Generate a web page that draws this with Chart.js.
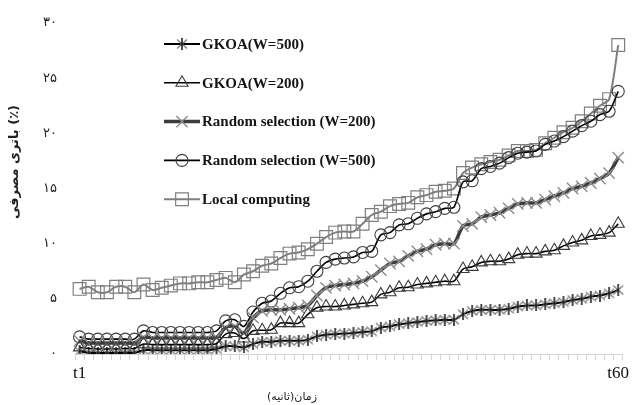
<!DOCTYPE html>
<html><head><meta charset="utf-8">
<script src="https://cdn.jsdelivr.net/npm/chart.js@4.4.1/dist/chart.umd.min.js"></script>
<style>html,body{margin:0;padding:0;background:#fff}#wrap{width:633px;height:405px;position:relative}</style>
</head><body><div id="wrap"><canvas id="c" width="633" height="405"></canvas></div>
<script>
const categories = Array.from({length: 60}, (_, i) => 't' + (i + 1));
const seriesNames = ['GKOA(W=500)', 'GKOA(W=200)', 'Random selection (W=200)', 'Random selection (W=500)', 'Local computing'];
const gkoa500 = [0.25,0.1,0.1,0.1,0.1,0.1,0.1,0.35,0.35,0.35, 0.35,0.35,0.35,0.35,0.35,0.45,0.7,0.7,0.6,0.9, 1.1,1.1,1.2,1.2,1.2,1.3,1.6,1.75,1.8,1.85, 1.9,2.0,2.05,2.4,2.5,2.7,2.8,2.9,3.0,3.05, 3.1,3.1,3.6,3.9,4.0,4.0,4.0,4.1,4.3,4.4, 4.4,4.5,4.6,4.7,4.9,5.0,5.2,5.3,5.5,5.8];
const gkoa200 = [0.6,0.5,0.45,0.45,0.45,0.5,0.5,0.9,0.85,0.85, 0.85,0.85,0.85,0.85,0.85,0.95,1.8,1.9,1.4,2.1, 2.15,2.2,2.8,2.8,2.8,3.6,4.2,4.3,4.3,4.4, 4.5,4.6,4.7,5.4,5.6,6.0,6.05,6.3,6.4,6.5, 6.6,6.6,7.7,7.9,8.3,8.4,8.4,8.6,9.0,9.1, 9.1,9.3,9.4,9.8,10.1,10.3,10.7,10.8,11.0,11.8];
const random200 = [1.2,1.0,1.0,1.0,1.0,1.0,1.0,1.5,1.45,1.45, 1.45,1.45,1.45,1.45,1.45,1.5,2.4,2.5,1.9,3.3, 3.9,4.0,4.0,4.1,4.2,4.4,5.3,6.0,6.2,6.3, 6.4,6.6,7.0,7.6,8.2,8.4,8.9,9.3,9.5,9.9, 10.0,10.0,11.6,11.8,12.4,12.6,12.8,13.2,13.6,13.7, 13.7,14.0,14.3,14.6,15.0,15.2,15.5,15.9,16.4,17.8];
const random500 = [1.55,1.35,1.35,1.35,1.35,1.35,1.35,2.1,1.95,1.95, 1.95,1.95,1.95,1.95,1.95,2.1,3.0,3.1,2.5,3.8, 4.6,4.8,5.5,6.0,6.1,6.6,7.5,8.3,8.6,8.7, 8.8,9.2,9.3,10.8,11.0,11.7,11.8,12.3,12.7,12.9, 13.2,13.3,15.6,15.7,16.8,17.0,17.3,17.8,18.2,18.3, 18.4,19.0,19.3,19.7,20.2,20.7,21.1,21.7,22.0,23.8];
const localComputing = [5.9,6.1,5.6,5.6,6.1,6.1,5.6,6.3,5.8,6.0, 6.2,6.4,6.4,6.5,6.5,6.7,6.9,6.5,7.2,7.5, 8.0,8.2,8.7,9.1,9.2,9.5,10.0,10.6,11.0,11.1, 11.1,11.8,12.6,12.9,13.4,13.6,13.7,14.2,14.4,14.7, 14.8,15.0,16.4,16.9,17.2,17.4,17.6,18.0,18.4,18.4, 18.5,19.1,19.6,20.1,20.5,21.1,21.8,22.5,23.1,28.0];
const yTickLabels = ['۰', '۵', '۱۰', '۱۵', '۲۰', '۲۵', '۳۰'];
const xTitle = 'زمان(ثانیه)';
const yTitle = 'باتری مصرفی (٪)';

function makeStar() {
  const s = 12, c = document.createElement('canvas');
  c.width = s; c.height = s;
  const g = c.getContext('2d');
  g.strokeStyle = '#7a7a7a'; g.lineWidth = 1.2;
  g.beginPath(); g.moveTo(1, 1.5); g.lineTo(s - 1, s - 1.5); g.moveTo(s - 1, 1.5); g.lineTo(1, s - 1.5); g.stroke();
  g.strokeStyle = '#000'; g.lineWidth = 1.4;
  g.beginPath(); g.moveTo(s / 2, 0); g.lineTo(s / 2, s); g.stroke();
  return c;
}
const starImg = makeStar();

const datasets = [
  {label: seriesNames[0], data: gkoa500, borderColor: '#000', borderWidth: 2, pointStyle: starImg, pointRadius: 6, pointBorderColor: '#000', pointBackgroundColor: 'transparent'},
  {label: seriesNames[1], data: gkoa200, borderColor: '#000', borderWidth: 1.6, pointStyle: 'triangle', pointRadius: 7, pointBorderWidth: 1.1, pointBorderColor: '#3a3a3a', pointBackgroundColor: 'transparent'},
  {label: seriesNames[2], data: random200, borderColor: '#3c3c3c', borderWidth: 3.5, pointStyle: 'crossRot', pointRadius: 8, pointBorderWidth: 1.4, pointBorderColor: '#8c8c8c', pointBackgroundColor: 'transparent'},
  {label: seriesNames[3], data: random500, borderColor: '#000', borderWidth: 1.6, pointStyle: 'circle', pointRadius: 6, pointBorderWidth: 1.1, pointBorderColor: '#404040', pointBackgroundColor: 'transparent'},
  {label: seriesNames[4], data: localComputing, borderColor: '#7f7f7f', borderWidth: 2, pointStyle: 'rect', pointRadius: 9, pointBorderWidth: 1.2, pointBorderColor: '#7f7f7f', pointBackgroundColor: 'transparent'}
];
datasets.forEach(d => { d.tension = 0.3; d.fill = false; d.pointHoverRadius = d.pointRadius; });

function drawMarker(ctx, ds, x, y) {
  const st = ds.pointStyle;
  ctx.save();
  ctx.strokeStyle = ds.pointBorderColor; ctx.lineWidth = ds.pointBorderWidth || 1;
  const r = ds.pointRadius;
  if (st instanceof HTMLCanvasElement) {
    ctx.drawImage(st, x - st.width / 2, y - st.height / 2);
  } else if (Chart.helpers && Chart.helpers.drawPoint) {
    ctx.fillStyle = 'rgba(0,0,0,0)';
    Chart.helpers.drawPoint(ctx, {pointStyle: st, radius: r, borderWidth: ds.pointBorderWidth, rotation: 0}, x, y);
  } else {
    ctx.beginPath();
    if (st === 'circle') ctx.arc(x, y, r, 0, Math.PI * 2);
    else if (st === 'rect') { const s = r * Math.SQRT1_2; ctx.rect(x - s, y - s, 2 * s, 2 * s); }
    else if (st === 'triangle') { ctx.moveTo(x, y - r); ctx.lineTo(x + r * 0.866, y + r * 0.5); ctx.lineTo(x - r * 0.866, y + r * 0.5); ctx.closePath(); }
    else if (st === 'crossRot') { const s = r * Math.SQRT1_2; ctx.moveTo(x - s, y - s); ctx.lineTo(x + s, y + s); ctx.moveTo(x + s, y - s); ctx.lineTo(x - s, y + s); }
    ctx.stroke();
  }
  ctx.restore();
}

const legendAndTitles = {
  id: 'legendAndTitles',
  afterDraw(chart) {
    const ctx = chart.ctx, ca = chart.chartArea;
    ctx.save();
    chart.data.datasets.forEach((ds, i) => {
      const y = ca.top + 21 + i * 38.8;
      ctx.strokeStyle = ds.borderColor; ctx.lineWidth = ds.borderWidth;
      ctx.beginPath(); ctx.moveTo(164, y); ctx.lineTo(200, y); ctx.stroke();
      drawMarker(ctx, ds, 182, y);
      ctx.fillStyle = '#151515';
      ctx.font = 'bold 15px "Liberation Serif"';
      ctx.textAlign = 'left'; ctx.textBaseline = 'middle';
      ctx.fillText(ds.label, 202, y + 1);
    });
    ctx.fillStyle = '#222';
    ctx.font = '11px "DejaVu Sans"';
    ctx.textAlign = 'center'; ctx.textBaseline = 'middle';
    ctx.fillText(xTitle, 292, 397);
    ctx.translate(15, 162);
    ctx.rotate(-Math.PI / 2);
    ctx.font = 'bold 13px "DejaVu Sans"';
    ctx.fillText(yTitle, 0, 0);
    ctx.restore();
  }
};

new Chart(document.getElementById('c'), {
  type: 'line',
  data: {labels: categories, datasets},
  options: {
    responsive: false,
    animation: false,
    devicePixelRatio: 1,
    layout: {padding: {top: 23, right: 6, left: 0, bottom: 0}},
    plugins: {legend: {display: false}, tooltip: {enabled: false}},
    scales: {
      x: {
        type: 'category',
        offset: true,
        grid: {display: true, drawOnChartArea: false, drawTicks: true, tickLength: 6, color: '#d4d4d4', offset: true},
        border: {display: true, color: '#d4d4d4', width: 1},
        ticks: {
          autoSkip: false, maxRotation: 0, minRotation: 0, padding: 3,
          color: '#111', font: {family: 'Liberation Serif', size: 17},
          callback: (v, i) => (i === 0 || i === categories.length - 1) ? categories[i] : ''
        },
        afterFit: s => { s.height = 51; s.paddingLeft = 0; s.paddingRight = 0; }
      },
      y: {
        min: 0, max: 30,
        grid: {display: false},
        border: {display: false},
        ticks: {
          stepSize: 5, padding: 10, color: '#222',
          font: {family: 'DejaVu Sans', size: 13},
          callback: (v, i) => yTickLabels[i]
        },
        afterFit: s => { s.width = 75; }
      }
    }
  },
  plugins: [legendAndTitles]
});
</script>
</body></html>
